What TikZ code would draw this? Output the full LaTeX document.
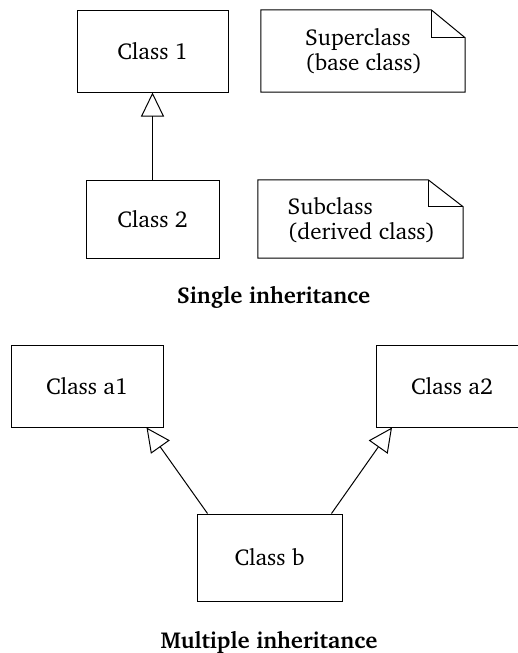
\documentclass[tikz,border=0pt]{standalone}
\usepackage[T1]{fontenc}
\usepackage{charter}
\usetikzlibrary{arrows.meta,calc}
\begin{document}
\begin{tikzpicture}[x=1pt,y=-1pt,
  every node/.style={font=\fontsize{23}{25.5}\selectfont, inner sep=0pt},
  classbox/.style={draw, line width=1pt, minimum width=#1},
  notetext/.style={align=left},
  outline/.style={line width=1pt},
  inherit/.style={line width=1pt, -{Triangle[open, width=23pt, length=24pt, line width=1pt]}},
  caption/.style={font=\fontsize{23}{25.5}\selectfont\bfseries}
]
\useasboundingbox (0,0) rectangle (518,653);
% Single inheritance
\node[classbox=151pt, minimum height=82pt] (c1) at (152.5,51) {Class 1};
\node[classbox=133pt, minimum height=78pt] (c2) at (152.5,219) {Class 2};
\draw[inherit] (c2.north) -- (c1.south);

\node[minimum width=204pt, minimum height=82pt] (sup) at (363,51) {};
\draw[outline] (sup.north west) -- ($(sup.north east)+(-34,0)$) -- ($(sup.north east)+(0,28)$) -- (sup.south east) -- (sup.south west) -- cycle;
\draw[outline] ($(sup.north east)+(-34,0)$) |- ($(sup.north east)+(0,28)$);
\node[notetext, anchor=west] (suptext) at (305,51) {Superclass\\(base class)};

\node[minimum width=205pt, minimum height=78pt] (sub) at (360.5,219) {};
\draw[outline] (sub.north west) -- ($(sub.north east)+(-35,0)$) -- ($(sub.north east)+(0,27)$) -- (sub.south east) -- (sub.south west) -- cycle;
\draw[outline] ($(sub.north east)+(-35,0)$) |- ($(sub.north east)+(0,27)$);
\node[notetext, anchor=west] (subtext) at (287.5,220) {Subclass\\(derived class)};

\node[caption, anchor=base] (cap1) at (273.5,303) {Single inheritance};

% Multiple inheritance
\node[classbox=152pt, minimum height=82pt] (a1) at (87,386) {Class a1};
\node[classbox=152pt, minimum height=82pt] (a2) at (452,386) {Class a2};
\node[classbox=145pt, minimum height=87pt] (b) at (269.5,557.5) {Class b};
\draw[inherit] ($(b.north west)+(11,0)$) -- ($(a1.south east)+(-17,0)$);
\draw[inherit] ($(b.north east)+(-11,0)$) -- ($(a2.south west)+(16.5,0)$);

\node[caption, anchor=base] (cap2) at (269,648) {Multiple inheritance};
\end{tikzpicture}
\end{document}
